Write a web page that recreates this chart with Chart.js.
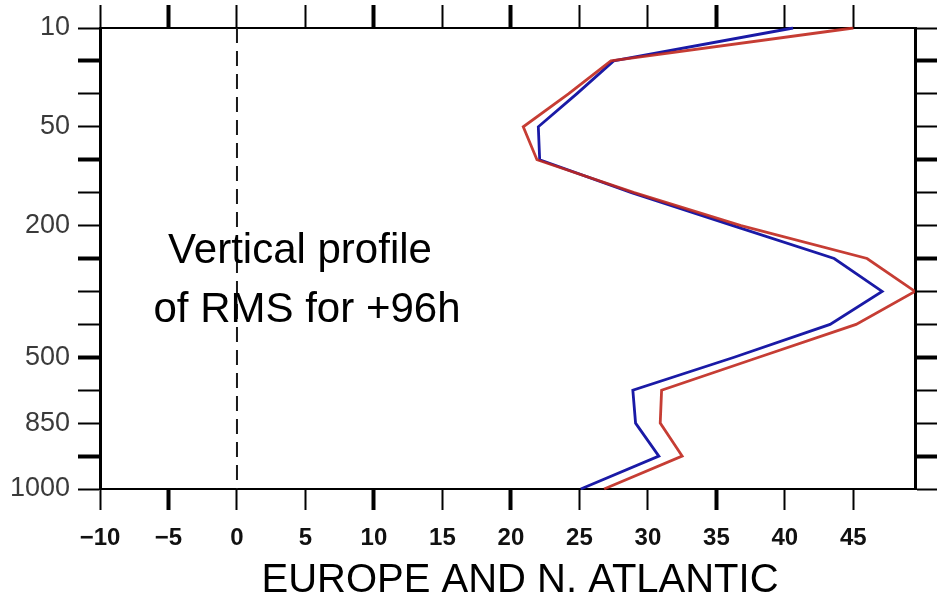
<!DOCTYPE html>
<html>
<head>
<meta charset="utf-8">
<title>Vertical profile of RMS for +96h</title>
<script src="https://cdn.jsdelivr.net/npm/chart.js@4/dist/chart.umd.min.js"></script>
<style>
  html, body { margin: 0; padding: 0; background: #ffffff; }
  canvas { display: block; }
</style>
</head>
<body>
<canvas id="profile" width="943" height="605"></canvas>
<script>
// Pressure levels (hPa), top of the atmosphere first
const levels = ['10', '20', '30', '50', '100', '150', '200', '250', '300', '400', '500', '700', '850', '925', '1000'];
// Levels that carry a text label on the vertical axis
const labelledLevels = ['10', '50', '200', '500', '850', '1000'];

// RMS error at each level for the two runs
const rmsBlue = [40.6, 27.5, 24.8, 22.0, 22.1, 28.8, 36.2, 43.6, 47.1, 43.3, 36.3, 28.9, 29.1, 30.8, 25.1];
const rmsRed  = [45.0, 27.3, 24.2, 20.9, 21.9, 29.0, 36.8, 46.0, 49.5, 45.2, 38.1, 31.0, 30.9, 32.5, 26.8];

// Horizontal axis
const xTicks = [-10, -5, 0, 5, 10, 15, 20, 25, 30, 35, 40, 45];
const xMin = -10;
const xMax = 49.5;
const zeroValue = 0;

// Text drawn on the figure
const captionLines = ['Vertical profile', 'of RMS for +96h'];
const regionName = 'EUROPE AND N. ATLANTIC';

const FONT = "'Liberation Sans', Arial, Helvetica, sans-serif";

const toPoints = vals => vals.map((v, i) => ({ x: v, y: levels[i] }));

// heavier tick marks at a few positions, as on the original plotting package
const heavyY = [1, 4, 7, 10, 13];
const heavyX = [1, 4, 6, 9];
const yTickWidth = ctx => heavyY.includes(ctx.index) ? 4 : 2;
const xTickWidth = ctx => heavyX.includes(ctx.index) ? 4 : 2;

const setXTicks = scale => { scale.ticks = xTicks.map(v => ({ value: v })); };
const fmtX = v => v < 0 ? '\u2212' + Math.abs(v) : String(v);

const captionPlugin = {
  id: 'captions',
  afterDraw(chart, args, opts) {
    const ctx = chart.ctx;
    ctx.save();
    ctx.textAlign = 'center';
    ctx.textBaseline = 'alphabetic';
    for (const item of opts.items) {
      ctx.font = item.font;
      ctx.fillStyle = item.color;
      ctx.fillText(item.text, item.x, item.y);
    }
    ctx.restore();
  }
};

new Chart(document.getElementById('profile'), {
  type: 'line',
  data: {
    datasets: [
      {
        label: 'red',
        data: toPoints(rmsRed),
        borderColor: 'rgba(192, 40, 30, 0.9)',
        borderWidth: 2.8,
        pointRadius: 0,
        tension: 0
      },
      {
        label: 'blue',
        data: toPoints(rmsBlue),
        borderColor: '#1a1aa6',
        borderWidth: 2.8,
        pointRadius: 0,
        tension: 0
      },
      {
        label: 'zero',
        data: [{ x: zeroValue, y: levels[0] }, { x: zeroValue, y: levels[levels.length - 1] }],
        borderColor: '#1a1a1a',
        borderWidth: 2,
        borderDash: [15, 8],
        pointRadius: 0
      }
    ]
  },
  options: {
    responsive: false,
    animation: false,
    devicePixelRatio: 1,
    layout: { padding: 0 },
    plugins: {
      legend: { display: false },
      tooltip: { enabled: false },
      captions: {
        items: [
          { text: captionLines[0], x: 300, y: 263, font: '42px ' + FONT, color: '#000' },
          { text: captionLines[1], x: 307, y: 322, font: '42px ' + FONT, color: '#000' },
          { text: regionName, x: 520, y: 592, font: '40px ' + FONT, color: '#000' }
        ]
      }
    },
    scales: {
      x: {
        type: 'linear',
        position: 'bottom',
        min: xMin,
        max: xMax,
        afterBuildTicks: setXTicks,
        afterFit: s => { s.height = 116; },
        grid: { drawOnChartArea: false, drawTicks: true, tickLength: 21, tickColor: '#000', tickWidth: xTickWidth },
        border: { display: true, color: '#000', width: 2 },
        ticks: {
          autoSkip: false, maxRotation: 0, padding: 14, color: '#111',
          font: { family: FONT, size: 24, weight: 'bold' },
          callback: fmtX
        }
      },
      x2: {
        type: 'linear',
        position: 'top',
        min: xMin,
        max: xMax,
        afterBuildTicks: setXTicks,
        afterFit: s => { s.height = 28; },
        grid: { drawOnChartArea: false, drawTicks: true, tickLength: 23, tickColor: '#000', tickWidth: xTickWidth },
        border: { display: true, color: '#000', width: 2 },
        ticks: { display: false, autoSkip: false }
      },
      y: {
        type: 'category',
        labels: levels,
        position: 'left',
        afterFit: s => { s.width = 100; },
        grid: { drawOnChartArea: false, drawTicks: true, tickLength: 22, tickColor: '#000', tickWidth: yTickWidth },
        border: { display: true, color: '#000', width: 3 },
        ticks: {
          autoSkip: false, padding: 8, color: '#3a3a3a',
          font: { family: FONT, size: 27 },
          callback: (v, i) => labelledLevels.includes(levels[i]) ? levels[i] : ''
        }
      },
      y2: {
        type: 'category',
        labels: levels,
        position: 'right',
        afterFit: s => { s.width = 28; },
        grid: { drawOnChartArea: false, drawTicks: true, tickLength: 22, tickColor: '#000', tickWidth: yTickWidth },
        border: { display: true, color: '#000', width: 3 },
        ticks: { display: false, autoSkip: false }
      }
    }
  },
  plugins: [captionPlugin]
});
</script>
</body>
</html>
